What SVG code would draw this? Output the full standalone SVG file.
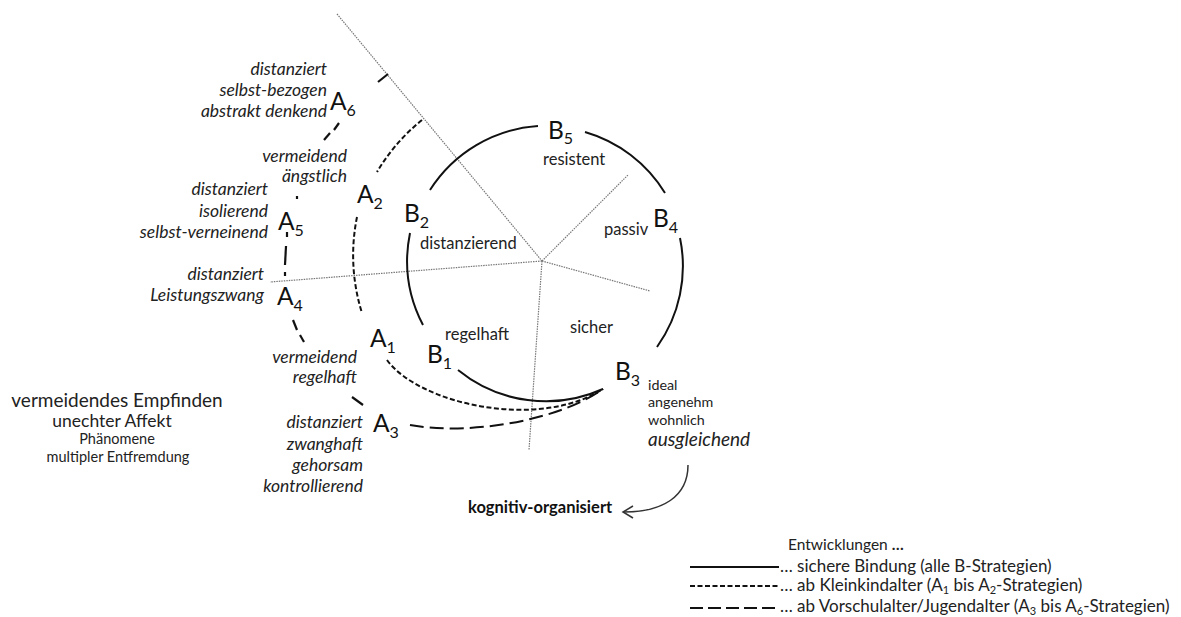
<svg xmlns="http://www.w3.org/2000/svg" width="1181" height="617" viewBox="0 0 1181 617">
  <style>
    text { font-family: Lato, "Liberation Sans", sans-serif; fill: #222; }
    .big { font-size: 24.5px; fill: #111; }
    .sub { font-size: 16px; }
    .it { font-size: 17.5px; font-style: italic; text-anchor: end; }
    .lbl { font-size: 16.5px; }
    .sm { font-size: 14.3px; }
    .leg { font-size: 17px; }
    .legsub { font-size: 11px; }
    .axis { stroke: #777; stroke-width: 1.2; stroke-dasharray: 1.5 1; fill: none; }
    .solid { stroke: #111; stroke-width: 2; fill: none; }
    .dot { stroke: #111; stroke-width: 2; fill: none; stroke-dasharray: 5 2.5; }
    .dash { stroke: #111; stroke-width: 2; fill: none; stroke-dasharray: 14 6; }
    .seg { stroke: #111; stroke-width: 2.2; fill: none; }
  </style>

  <!-- Connectors: axes, development paths, legend samples -->
  <g id="connectors">
    <!-- sector axes from the hub -->
    <line class="axis" x1="337" y1="14" x2="542" y2="261"/>
    <line class="axis" x1="542" y1="261" x2="628" y2="175"/>
    <line class="axis" x1="542" y1="261" x2="650" y2="291"/>
    <line class="axis" x1="542" y1="261" x2="270" y2="282"/>
    <line class="axis" x1="542" y1="261" x2="529" y2="450"/>

    <!-- B strategies: secure circle -->
    <path class="solid" d="M430,190 A139,139 0 0 1 538,126"/>
    <path class="solid" d="M585,132 A139,139 0 0 1 665,193"/>
    <path class="solid" d="M680,238 A139,139 0 0 1 657,347"/>
    <path class="solid" d="M410,233 A139,139 0 0 0 423,325"/>
    <path class="solid" d="M458,370 A139,139 0 0 0 603,389"/>

    <!-- A1/A2 path (toddler) -->
    <path class="dot" d="M422,120 A192,192 0 0 0 377,172"/>
    <path class="dot" d="M357,217 A192,192 0 0 0 362,313"/>
    <path class="dot" d="M387,360 C420,405 540,430 603,389"/>

    <!-- A3..A6 path (preschool / adolescence) -->
    <line class="seg" x1="378" y1="82" x2="388" y2="74"/>
    <line class="seg" x1="339" y1="123" x2="334" y2="130"/>
    <line class="seg" x1="330" y1="133" x2="324" y2="140"/>
    <line class="seg" x1="297" y1="196" x2="297" y2="199"/>
    <line class="seg" x1="287" y1="232" x2="287" y2="237"/>
    <line class="seg" x1="286" y1="246" x2="285" y2="265"/>
    <line class="seg" x1="285" y1="272" x2="285" y2="276"/>
    <line class="seg" x1="293" y1="320" x2="297" y2="330"/>
    <line class="seg" x1="300" y1="335" x2="304" y2="342"/>
    <line class="seg" x1="352" y1="397" x2="363" y2="405"/>
    <path class="dash" d="M410,425 C470,436 560,420 603,389"/>

    <!-- curved arrow to the cognitive-organised outcome -->
    <path d="M688,465 C688,497 662,512 624,512" stroke="#333" stroke-width="1.5" fill="none"/>
    <path d="M633,506 L623,512 L633,518" stroke="#333" stroke-width="1.5" fill="none"/>

    <!-- legend samples -->
    <line class="solid" x1="690" y1="567" x2="779" y2="567"/>
    <line class="dot" x1="690" y1="586" x2="778" y2="586"/>
    <line class="seg" x1="690" y1="608" x2="778" y2="608" stroke-dasharray="13 5"/>
  </g>

  <!-- A strategies -->
  <g id="A6">
    <text class="big" x="330" y="110">A<tspan class="sub" dy="6">6</tspan></text>
    <text class="it" x="327" y="75">distanziert</text>
    <text class="it" x="327" y="96">selbst-bezogen</text>
    <text class="it" x="327" y="117">abstrakt denkend</text>
  </g>
  <g id="A2">
    <text class="big" x="357" y="203">A<tspan class="sub" dy="6">2</tspan></text>
    <text class="it" x="347" y="162">vermeidend</text>
    <text class="it" x="347" y="182">ängstlich</text>
  </g>
  <g id="A5">
    <text class="big" x="278" y="230">A<tspan class="sub" dy="6">5</tspan></text>
    <text class="it" x="268" y="195">distanziert</text>
    <text class="it" x="268" y="217">isolierend</text>
    <text class="it" x="268" y="238">selbst-verneinend</text>
  </g>
  <g id="A4">
    <text class="big" x="277" y="305">A<tspan class="sub" dy="6">4</tspan></text>
    <text class="it" x="264" y="280">distanziert</text>
    <text class="it" x="264" y="301">Leistungszwang</text>
  </g>
  <g id="A1">
    <text class="big" x="370" y="347">A<tspan class="sub" dy="6">1</tspan></text>
    <text class="it" x="357" y="363">vermeidend</text>
    <text class="it" x="357" y="383">regelhaft</text>
  </g>
  <g id="A3">
    <text class="big" x="373" y="432">A<tspan class="sub" dy="6">3</tspan></text>
    <text class="it" x="363" y="428">distanziert</text>
    <text class="it" x="363" y="450">zwanghaft</text>
    <text class="it" x="363" y="471">gehorsam</text>
    <text class="it" x="363" y="492">kontrollierend</text>
  </g>

  <!-- B strategies -->
  <g id="B2">
    <text class="big" x="404" y="222">B<tspan class="sub" dy="6">2</tspan></text>
    <text class="lbl" x="420" y="249">distanzierend</text>
  </g>
  <g id="B5">
    <text class="big" x="548" y="139">B<tspan class="sub" dy="5">5</tspan></text>
    <text class="lbl" x="543" y="165">resistent</text>
  </g>
  <g id="B4">
    <text class="big" x="653" y="227">B<tspan class="sub" dy="6">4</tspan></text>
    <text class="lbl" x="604" y="235">passiv</text>
  </g>
  <g id="B1">
    <text class="big" x="427" y="363">B<tspan class="sub" dy="6">1</tspan></text>
    <text class="lbl" x="445" y="340">regelhaft</text>
  </g>
  <g id="B3">
    <text class="big" x="615" y="380">B<tspan class="sub" dy="6">3</tspan></text>
    <text class="lbl" x="570" y="333">sicher</text>
    <text class="sm" x="648" y="390">ideal</text>
    <text class="sm" x="648" y="407">angenehm</text>
    <text class="sm" x="648" y="425">wohnlich</text>
    <text x="648" y="446" style="font-size:19px;font-style:italic">ausgleichend</text>
  </g>
  <g id="kognitiv">
    <text x="468" y="513" style="font-size:16.5px;font-weight:bold;fill:#111">kognitiv-organisiert</text>
  </g>

  <!-- overall caption -->
  <g id="caption" text-anchor="middle">
    <text x="117" y="407" style="font-size:19px">vermeidendes Empfinden</text>
    <text x="112" y="427" style="font-size:17.5px">unechter Affekt</text>
    <text x="117" y="444" style="font-size:14.5px">Phänomene</text>
    <text x="118" y="462" style="font-size:14.5px">multipler Entfremdung</text>
  </g>

  <!-- legend -->
  <g id="legend">
    <text class="leg" x="788" y="550" style="font-size:15.5px">Entwicklungen <tspan style="font-weight:bold">…</tspan></text>
    <text class="leg" x="780" y="572">… sichere Bindung (alle B-Strategien)</text>
    <text class="leg" x="780" y="591">… ab Kleinkindalter (A<tspan class="legsub" dy="3">1</tspan><tspan dy="-3"> bis A</tspan><tspan class="legsub" dy="3">2</tspan><tspan dy="-3">-Strategien)</tspan></text>
    <text class="leg" x="780" y="612">… ab Vorschulalter/Jugendalter  (A<tspan class="legsub" dy="3">3</tspan><tspan dy="-3"> bis A</tspan><tspan class="legsub" dy="3">6</tspan><tspan dy="-3">-Strategien)</tspan></text>
  </g>
</svg>
